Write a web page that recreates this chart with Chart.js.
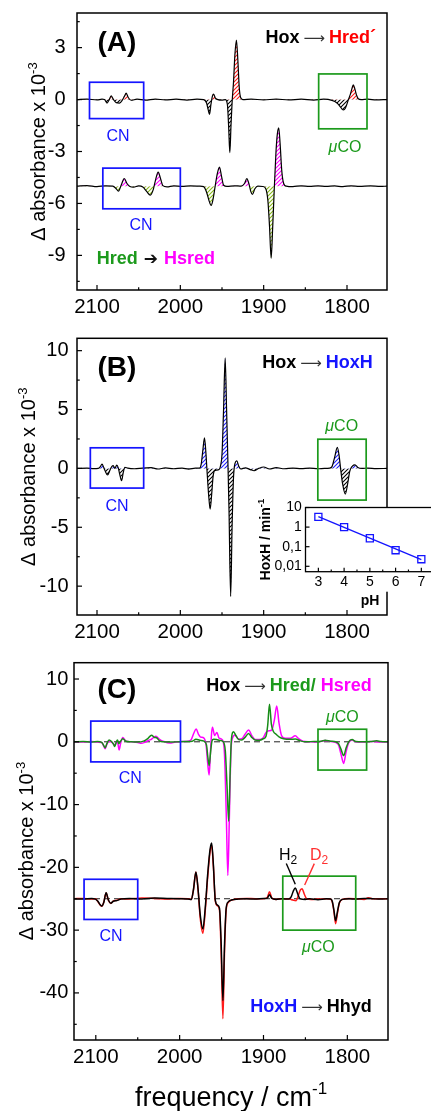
<!DOCTYPE html>
<html><head><meta charset="utf-8">
<script src="https://cdn.jsdelivr.net/npm/chart.js@4.4.1/dist/chart.umd.min.js"></script>
<style>
html,body{margin:0;padding:0;background:#fff;width:431px;height:1111px;overflow:hidden;position:relative}
canvas{position:absolute;left:0}
</style></head><body>
<canvas id="cA" width="431" height="325" style="top:0"></canvas>
<canvas id="cB" width="431" height="325" style="top:325px"></canvas>
<canvas id="cC" width="431" height="461" style="top:650px"></canvas>
<canvas id="cI" width="180" height="125" style="top:490px;left:255px"></canvas>
<script>
const FONT = "'Liberation Sans', Arial, Helvetica, sans-serif";
Chart.defaults.font.family = FONT;
Chart.defaults.color = '#000';

// ---------------- data ----------------
const freqTicks = [2100, 2000, 1900, 1800];
const freqMinorTicks = [2050, 1950, 1850];
const yTicksA = [3, 0, -3, -6, -9];
const yMinorA = [4.5, 1.5, -1.5, -4.5, -7.5, -10.5];
const yTicksB = [10, 5, 0, -5, -10];
const yMinorB = [7.5, 2.5, -2.5, -7.5];
const yTicksC = [10, 0, -10, -20, -30, -40];
const yMinorC = [5, -5, -15, -25, -35, -45];

// [frequency cm-1, delta absorbance x 1e-3]
const specA_HoxHred = [[2124,0],[2112,0.03],[2100,-0.02],[2094,0.02],[2091,0],[2088,-0.2],[2085.5,-0.02],[2083,0.21],[2080.5,0.02],[2077,-0.18],[2073,-0.2],[2069.5,-0.02],[2067,0.2],[2065,0.37],[2062.5,0.12],[2059,-0.04],[2052,0.02],[2042,-0.03],[2030,0.03],[2018,-0.02],[2005,0.02],[1992,-0.03],[1980,0.02],[1972,0],[1968.5,-0.2],[1966.5,-0.6],[1965,-0.85],[1963.3,-0.3],[1961.5,0.2],[1960,0.31],[1958,0.08],[1955,0],[1950,-0.03],[1946,0],[1943.5,-0.3],[1942,-1.6],[1940.6,-3.06],[1939.2,-1.5],[1937.8,-0.1],[1936.2,1.0],[1934.5,2.6],[1932.7,3.44],[1931,2.3],[1929.3,0.7],[1927.5,0.1],[1925,0],[1915,0.03],[1900,-0.02],[1885,0.03],[1870,-0.02],[1855,0.02],[1840,-0.03],[1828,0.02],[1818,-0.05],[1812,-0.2],[1808,-0.42],[1806,-0.55],[1804.2,-0.6],[1802,-0.5],[1800,-0.25],[1798.3,0],[1796,0.3],[1794,0.65],[1792.5,0.85],[1790.5,0.6],[1788.5,0.25],[1786.5,0.05],[1783,0],[1775,0.02],[1765,-0.02],[1752,0]];
const specA_HredHsred = [[2124,-5],[2112,-4.97],[2100,-5.03],[2090,-4.98],[2081,-5.0],[2077.5,-5.12],[2074.2,-5.29],[2071,-4.95],[2067.3,-4.56],[2064,-4.85],[2060.5,-5.02],[2056,-5.06],[2050,-4.99],[2045,-5.05],[2040.5,-5.3],[2036,-5.52],[2032.5,-5.2],[2029.5,-4.6],[2026.6,-4.19],[2023.8,-4.55],[2021,-4.97],[2016,-5.04],[2008,-4.98],[1998,-5.02],[1988,-4.99],[1977,-5.0],[1972,-5.03],[1968.5,-5.35],[1965.5,-5.85],[1963,-6.12],[1960.5,-5.7],[1958.2,-5.0],[1955.5,-4.25],[1953,-3.9],[1950.5,-4.45],[1948,-4.95],[1944,-5.02],[1935,-4.98],[1927,-5.0],[1923,-4.85],[1920.2,-4.57],[1917.5,-4.9],[1915.5,-5.3],[1913.5,-5.48],[1910.5,-5.15],[1907,-5.0],[1901,-5.02],[1897.5,-5.15],[1895,-5.8],[1893,-7.3],[1891,-9.16],[1889.2,-7.4],[1887.3,-5.2],[1885.2,-3.0],[1883.5,-1.95],[1881.9,-1.63],[1880.2,-2.6],[1878.3,-4.1],[1876,-4.85],[1873,-5.0],[1865,-5.03],[1855,-4.98],[1845,-5.02],[1835,-4.98],[1825,-5.02],[1815,-4.99],[1805,-5.03],[1795,-4.98],[1785,-5.02],[1772,-4.99],[1760,-5.02],[1752,-5]];
const specB_HoxHoxH = [[2124,0],[2112,0.02],[2104,-0.02],[2098.5,0],[2096,0.15],[2094,0.37],[2092,0.1],[2090,-0.25],[2087.3,-0.56],[2084.5,-0.15],[2082.3,0.15],[2080.5,0.23],[2078.6,0.0],[2076.3,0.28],[2074.5,0.05],[2072.7,-0.5],[2070.5,-1.05],[2068.5,-0.35],[2066.5,0.1],[2063,0.02],[2055,-0.03],[2045,0.03],[2035,0.06],[2027,-0.05],[2018,0.04],[2008,-0.03],[1998,0.02],[1990,-0.06],[1982,0.02],[1977,0.03],[1975,0.35],[1973.2,1.4],[1971,2.6],[1969.3,1.3],[1967.8,-0.4],[1966.2,-2.1],[1964.2,-3.45],[1962.5,-2.3],[1960.7,-0.7],[1959,-0.2],[1956.5,-0.15],[1953.5,-0.1],[1951.5,0.3],[1950,1.2],[1948.2,4.8],[1946.2,9.38],[1944.5,5.0],[1943,0.8],[1941.6,-3.5],[1939.6,-10.88],[1937.9,-5.0],[1936.2,-0.8],[1934.3,0.45],[1932.2,0.65],[1930,0.2],[1927.5,-0.05],[1922,0.05],[1916,-0.1],[1911.5,-0.2],[1906,0.0],[1900,0.12],[1893,-0.05],[1885,0.06],[1875,-0.03],[1865,0.03],[1855,-0.02],[1845,0.03],[1835,-0.03],[1827,0.0],[1821,0.02],[1818,0.15],[1815,0.9],[1811.6,1.78],[1809.5,1.1],[1807.7,0.0],[1805.3,-1.3],[1802,-2.18],[1799.2,-1.3],[1796.7,-0.25],[1793.5,0.2],[1790.4,0.3],[1787,0.08],[1782,0.0],[1775,0.03],[1765,-0.02],[1752,0]];
const specC_Hred = [[2126,0],[2115,0.05],[2105,-0.05],[2098,0.05],[2093,-0.1],[2090.5,-0.6],[2088.9,-0.95],[2086.8,-0.3],[2084.2,0.3],[2081,0.0],[2079,-0.35],[2077.3,-0.75],[2075.5,0.0],[2074.2,0.3],[2072.5,-0.3],[2070.5,0.1],[2067.8,0.5],[2064,0.1],[2058,0.0],[2050,-0.05],[2043,0.1],[2038,0.5],[2033.6,1.06],[2030,0.7],[2027.5,0.65],[2024,0.15],[2019,0.0],[2010,-0.05],[2000,0.02],[1992,0.05],[1985,0.1],[1980.5,0.4],[1976,0.25],[1971,0.1],[1968,-0.5],[1966.3,-2.5],[1964.8,-3.8],[1963.2,-1.8],[1961.5,0.1],[1959.5,0.4],[1956,0.35],[1952,0.2],[1948,0.0],[1945.5,-1.5],[1943.5,-7],[1941.5,-12.65],[1939.8,-5],[1938.3,0.3],[1935.7,1.6],[1933,1.0],[1929.5,0.35],[1926,0.3],[1922,0.7],[1917.8,1.33],[1914,0.7],[1910,0.3],[1905,0.25],[1900,0.5],[1897,0.9],[1895,2.6],[1892.8,6.0],[1890.6,2.8],[1888,1.6],[1885,1.2],[1881.5,0.8],[1876,0.5],[1868,0.4],[1862,0.45],[1856,0.15],[1850,0.0],[1840,0.05],[1831,0.1],[1826.5,0.25],[1820,0.1],[1814,0.0],[1810.5,-0.3],[1807.5,-1.2],[1804.4,-2.2],[1801.5,-1.0],[1798.5,0.0],[1794.4,0.35],[1790,0.05],[1782,0.0],[1772,0.05],[1765,0.15],[1760,0.05],[1752,0]];
const specC_Hsred = [[2126,0],[2115,-0.05],[2105,0.05],[2098,-0.05],[2093,-0.1],[2090.5,-0.7],[2088.9,-1.1],[2086.8,-0.4],[2084.2,0.1],[2081,-0.1],[2077.3,-0.5],[2075,0.0],[2074.2,0.1],[2073.2,-0.6],[2072.2,-1.3],[2070.3,-0.2],[2067.8,0.7],[2064.5,0.15],[2058,0.0],[2050,-0.1],[2046,-0.25],[2041,-0.05],[2036,0.3],[2033.6,0.4],[2028.4,0.9],[2024,0.4],[2019,0.05],[2012,-0.2],[2005,-0.05],[1998,0.05],[1990,0.1],[1986,0.4],[1983,1.4],[1980.3,2.02],[1977.5,1.2],[1975,0.75],[1971,0.6],[1968.5,-0.5],[1966.5,-3.5],[1964.8,-5.3],[1963.2,-1.5],[1961.8,1.5],[1960.8,2.3],[1958.3,1.0],[1955.6,1.5],[1953,0.6],[1949,0.3],[1946.5,-2],[1944.3,-12],[1942.5,-21.3],[1940.7,-12],[1939,-2],[1937,0.6],[1934,1.1],[1930,0.45],[1926,0.5],[1922,1.2],[1917.8,1.87],[1913.5,0.9],[1910,0.35],[1905,0.35],[1900,0.7],[1897,1.5],[1893.5,1.75],[1890,1.9],[1887,3.5],[1884.2,5.69],[1881.5,3.0],[1878.5,1.0],[1874,0.55],[1868,0.55],[1862.1,0.96],[1858,0.5],[1853,0.1],[1845,0.0],[1835,-0.05],[1826.5,0.2],[1820,0.05],[1814,-0.1],[1810.5,-0.5],[1807.5,-2.0],[1804.4,-3.45],[1801.5,-1.6],[1798.5,-0.2],[1794.4,0.3],[1790,0.0],[1780,-0.05],[1770,0.05],[1760,-0.05],[1752,0]];
const specC_H2 = [[2126,-25],[2115,-25.05],[2105,-24.95],[2100.5,-25.05],[2097.5,-25.4],[2094.5,-26.0],[2092.8,-26.17],[2090.5,-25.6],[2087.7,-24.05],[2085,-25.2],[2082.1,-25.7],[2079,-25.4],[2075,-25.3],[2070,-25.05],[2060,-24.95],[2045,-25.05],[2030,-24.9],[2015,-24.95],[2000,-25.0],[1990,-25.05],[1986,-25.1],[1983.5,-23.5],[1980.6,-20.75],[1978,-23.5],[1975.5,-27.5],[1972.3,-29.8],[1969.5,-26.5],[1966.5,-21],[1963.8,-17.2],[1961.8,-16.13],[1959.8,-19.5],[1957.5,-25.2],[1955,-26.0],[1952.5,-26.5],[1950.5,-32],[1948.4,-41.2],[1946.4,-32],[1944.5,-26.5],[1942,-25.5],[1938,-25.2],[1930,-25.05],[1920,-25.0],[1910,-25.05],[1900,-24.95],[1895.5,-24.9],[1892.8,-24.35],[1890,-24.95],[1885,-25.1],[1878,-25.0],[1870,-25.05],[1867,-24.7],[1864.5,-23.8],[1862.1,-23.3],[1859.5,-24.1],[1856.5,-25.0],[1850,-25.1],[1845,-25.0],[1835,-25.15],[1825,-25.0],[1820,-25.05],[1818,-25.4],[1816,-26.8],[1814,-28.5],[1812,-27.2],[1809.5,-25.6],[1806,-25.1],[1798,-25.0],[1790,-25.05],[1780,-24.95],[1770,-25.0],[1760,-25.05],[1752,-25]];
const specC_D2 = [[2126,-25],[2115,-24.95],[2105,-25.05],[2100.5,-25.0],[2097.5,-25.45],[2094.5,-26.05],[2092.8,-26.2],[2090.5,-25.55],[2087.7,-24.1],[2085,-25.25],[2082.1,-25.75],[2079,-25.35],[2075,-25.25],[2070,-25.0],[2060,-25.05],[2045,-24.9],[2030,-24.95],[2015,-25.05],[2000,-24.95],[1990,-25.0],[1986,-25.1],[1983.5,-23.6],[1980.6,-20.75],[1978,-23.6],[1975.5,-28],[1972.3,-30.5],[1969.5,-27],[1966.5,-21.5],[1963.8,-17.6],[1961.8,-16.5],[1959.8,-19.8],[1957.5,-25.3],[1955,-26.1],[1952.5,-26.8],[1950.5,-33.5],[1948.4,-44.1],[1946.4,-33],[1944.5,-26.8],[1942,-25.6],[1938,-25.2],[1930,-25.0],[1920,-24.95],[1910,-25.0],[1900,-25.0],[1895.5,-24.8],[1892.8,-23.9],[1890,-24.9],[1885,-25.1],[1878,-25.0],[1870,-25.0],[1865,-25.2],[1861,-25.3],[1858.5,-24.5],[1856,-23.6],[1854,-23.4],[1851.5,-24.2],[1848.5,-25.0],[1843,-25.1],[1835,-25.05],[1825,-25.0],[1820,-25.05],[1818,-25.5],[1816,-27.0],[1814,-28.97],[1812,-27.5],[1809.5,-25.7],[1806,-25.1],[1798,-24.95],[1790,-25.0],[1780,-25.1],[1775,-24.85],[1770,-25.0],[1760,-25.0],[1752,-25]];
const baselineC_top = [[2126,0],[1751.5,0]];
const baselineC_bottom = [[2126,-25],[1751.5,-25]];

const insetPH = [3, 4, 5, 6, 7];
const insetRate = [3.3, 1.0, 0.27, 0.066, 0.023];
const insetFitPH = [3, 7];
const insetFitRate = [3.4, 0.022];
const insetXTicks = [3, 4, 5, 6, 7];
const insetXMinor = [3.5, 4.5, 5.5, 6.5];
const insetYTicks = [0.01, 0.1, 1, 10];
const insetYTickLabels = ['0,01', '0,1', '1', '10'];

// ---------------- styling helpers ----------------
const BLUE = '#1414ff', GREEN = '#1c9a1c', MAGENTA = '#ff00ff', RED = '#ff0000';
const pts = arr => arr.map(([x, y]) => ({x, y}));

function hatch(color) {
  const c = document.createElement('canvas'); c.width = 4; c.height = 4;
  const g = c.getContext('2d');
  g.strokeStyle = color; g.lineWidth = 1.1;
  g.beginPath();
  g.moveTo(-1, 5); g.lineTo(5, -1);
  g.moveTo(-1, 1); g.lineTo(1, -1);
  g.moveTo(3, 5); g.lineTo(5, 3);
  g.stroke();
  return g.createPattern(c, 'repeat');
}

function lineDS(data, color, width, order, fill, dash) {
  return {data: pts(data), borderColor: color, borderWidth: width, pointRadius: 0,
    cubicInterpolationMode: 'monotone', fill: fill || false, order: order,
    borderDash: dash || []};
}

function drawParts(ctx, parts, x, y, align, rot) {
  ctx.save();
  ctx.translate(x, y);
  if (rot) ctx.rotate(rot);
  ctx.textBaseline = 'alphabetic';
  ctx.textAlign = 'left';
  const fonts = parts.map(p => `${p.st || 'normal'} ${p.w || 'normal'} ${p.s}px ${p.fam || FONT}`);
  const widths = parts.map((p, i) => { ctx.font = fonts[i]; return ctx.measureText(p.t).width + (p.gap || 0); });
  const total = widths.reduce((a, b) => a + b, 0);
  let cx = align === 'right' ? -total : align === 'center' ? -total / 2 : 0;
  parts.forEach((p, i) => {
    ctx.font = fonts[i]; ctx.fillStyle = p.c || '#000';
    ctx.fillText(p.t, cx + (p.gap || 0) / 2, p.dy || 0);
    cx += widths[i];
  });
  ctx.restore();
}

function deco(o) {
  return {
    id: 'deco' + o.id,
    beforeDraw(chart) {
      if (o.whiteRect) {
        const ctx = chart.ctx, r = o.whiteRect;
        ctx.save(); ctx.fillStyle = '#fff'; ctx.fillRect(r[0], r[1], r[2], r[3]); ctx.restore();
      }
    },
    afterDraw(chart) {
      const ctx = chart.ctx, ca = chart.chartArea, X = chart.scales.x, Y = chart.scales.y;
      ctx.save();
      (o.boxes || []).forEach(b => {
        const x0 = X.getPixelForValue(b.f[0]), x1 = X.getPixelForValue(b.f[1]);
        const y0 = Y.getPixelForValue(b.a[0]), y1 = Y.getPixelForValue(b.a[1]);
        ctx.strokeStyle = b.c; ctx.lineWidth = 1.7;
        ctx.strokeRect(Math.min(x0, x1), Math.min(y0, y1), Math.abs(x1 - x0), Math.abs(y1 - y0));
      });
      (o.lines || []).forEach(l => {
        ctx.strokeStyle = l.c; ctx.lineWidth = 1.4;
        ctx.beginPath();
        ctx.moveTo(X.getPixelForValue(l.p[0][0]), Y.getPixelForValue(l.p[0][1]));
        ctx.lineTo(X.getPixelForValue(l.p[1][0]), Y.getPixelForValue(l.p[1][1]));
        ctx.stroke();
      });
      ctx.strokeStyle = '#000'; ctx.lineWidth = o.frameW || 1.5;
      ctx.strokeRect(ca.left, ca.top, ca.right - ca.left, ca.bottom - ca.top);
      ctx.lineWidth = 1.2;
      const tick = (scale, vals, len, horiz) => vals.forEach(v => {
        const p = scale.getPixelForValue(v);
        ctx.beginPath();
        if (horiz) { if (p < ca.left || p > ca.right) return; ctx.moveTo(p, ca.bottom); ctx.lineTo(p, ca.bottom - len); }
        else { if (p < ca.top || p > ca.bottom) return; ctx.moveTo(ca.left, p); ctx.lineTo(ca.left + len, p); }
        ctx.stroke();
      });
      tick(X, o.xMajor, o.tl || 5, true); tick(X, o.xMinor || [], (o.tl || 5) * 0.55, true);
      tick(Y, o.yMajor, o.tl || 5, false); tick(Y, o.yMinor || [], (o.tl || 5) * 0.55, false);
      (o.texts || []).forEach(t => drawParts(ctx, t.parts, t.x, t.y, t.align, t.rot));
      ctx.restore();
    }
  };
}

function panel(id, o) {
  return new Chart(document.getElementById(id), {
    type: 'line',
    data: {datasets: o.datasets},
    options: {
      responsive: false, animation: false, devicePixelRatio: 1, events: [],
      layout: {autoPadding: false, padding: {top: o.top, right: o.right, left: 0, bottom: 0}},
      plugins: {legend: {display: false}, tooltip: {enabled: false}},
      scales: {
        x: {type: 'linear', reverse: true, min: o.xmin, max: o.xmax,
          grid: {display: false, drawTicks: false}, border: {display: false},
          afterBuildTicks: ax => { ax.ticks = freqTicks.map(v => ({value: v})); },
          afterFit: ax => { ax.height = o.xh; ax.paddingLeft = 0; ax.paddingRight = 0; },
          ticks: {autoSkip: false, maxRotation: 0, minRotation: 0, padding: o.xpad,
            font: {size: 20.5}, color: '#000', callback: v => String(v)}},
        y: {type: 'linear', min: o.ymin, max: o.ymax,
          grid: {display: false, drawTicks: false}, border: {display: false},
          afterBuildTicks: ax => { ax.ticks = o.yMajor.map(v => ({value: v})); },
          afterFit: ax => { ax.width = o.left; ax.paddingTop = 0; ax.paddingBottom = 0; },
          ticks: {autoSkip: false, padding: o.ypad, font: {size: 20}, color: '#000', callback: v => String(v)}}
      }
    },
    plugins: [deco(o)]
  });
}

const muCO = (x, y) => ({parts: [{t: 'μ', s: 16, st: 'italic', c: GREEN}, {t: 'CO', s: 16, c: GREEN}], x, y, align: 'center'});
const CN = (x, y) => ({parts: [{t: 'CN', s: 16, c: BLUE}], x, y, align: 'center'});
const yTitle = (x, y) => ({parts: [{t: 'Δ absorbance x 10', s: 20}, {t: '-3', s: 13, dy: -8}], x, y, align: 'center', rot: -Math.PI / 2});
const ARROW = {t: '⟶', s: 15, c: '#333', fam: "'DejaVu Sans', sans-serif", gap: 8};

// ---------------- Panel A ----------------
panel('cA', {
  id: 'A', top: 13, right: 44, left: 77, xh: 35, xmin: 1752, xmax: 2124, ymin: -11, ymax: 5,
  xpad: 5, ypad: 11.5, xMajor: freqTicks, xMinor: freqMinorTicks, yMajor: yTicksA, yMinor: yMinorA,
  datasets: [
    lineDS(specA_HoxHred, '#000', 1.2, 1, {target: {value: 0}, above: hatch('#ff1a1a'), below: hatch('#000')}),
    lineDS(specA_HredHsred, '#000', 1.2, 2, {target: {value: -5}, above: hatch('#ff00ff'), below: hatch('#86b81a')})
  ],
  boxes: [
    {f: [2109, 2044], a: [1.0, -1.1], c: BLUE},
    {f: [1834, 1776], a: [1.48, -1.69], c: GREEN},
    {f: [2093, 2000], a: [-3.96, -6.31], c: BLUE}
  ],
  texts: [
    {parts: [{t: '(A)', s: 28, w: 'bold'}], x: 97.5, y: 51, align: 'left'},
    {parts: [{t: 'Hox', s: 18, w: 'bold'}, ARROW, {t: 'Hred´', s: 18, w: 'bold', c: RED}], x: 376, y: 42.7, align: 'right'},
    CN(118, 140.7), CN(141, 230), muCO(345, 151.7),
    {parts: [{t: 'Hred', s: 18, w: 'bold', c: GREEN}, {t: '➔', s: 17, fam: "'DejaVu Sans', sans-serif", c: '#111', gap: 12},
      {t: 'Hsred', s: 18, w: 'bold', c: MAGENTA}], x: 96.7, y: 264, align: 'left'},
    yTitle(45, 151.5)
  ]
});

// ---------------- Panel B ----------------
panel('cB', {
  id: 'B', top: 13.3, right: 44, left: 77, xh: 35, xmin: 1752, xmax: 2124, ymin: -12.45, ymax: 11.05,
  xpad: 5, ypad: 8.5, xMajor: freqTicks, xMinor: freqMinorTicks, yMajor: yTicksB, yMinor: yMinorB,
  datasets: [
    lineDS(specB_HoxHoxH, '#000', 1.2, 1, {target: {value: 0}, above: hatch('#2020ff'), below: hatch('#000')})
  ],
  boxes: [
    {f: [2108, 2044], a: [1.75, -1.67], c: BLUE},
    {f: [1835, 1777], a: [2.48, -2.69], c: GREEN}
  ],
  texts: [
    {parts: [{t: '(B)', s: 28, w: 'bold'}], x: 97.5, y: 51, align: 'left'},
    {parts: [{t: 'Hox', s: 18, w: 'bold'}, ARROW, {t: 'HoxH', s: 18, w: 'bold', c: BLUE}], x: 372.7, y: 43.3, align: 'right'},
    CN(117, 185.7), muCO(341.7, 105.7),
    yTitle(35, 151.7)
  ]
});

// ---------------- Panel C ----------------
panel('cC', {
  id: 'C', top: 12.7, right: 43, left: 74, xh: 71, xmin: 1751.5, xmax: 2126, ymin: -47.5, ymax: 12.6,
  xpad: 5, ypad: 5.7, xMajor: freqTicks, xMinor: freqMinorTicks, yMajor: yTicksC, yMinor: yMinorC,
  datasets: [
    lineDS(specC_Hred, '#178c17', 1.5, 1),
    lineDS(specC_Hsred, MAGENTA, 1.5, 2),
    lineDS(specC_H2, '#000', 1.5, 3),
    lineDS(specC_D2, '#ff1a1a', 1.5, 4),
    lineDS(baselineC_top, '#222', 1, 9, false, [6, 4]),
    lineDS(baselineC_bottom, '#222', 1, 9, false, [6, 4])
  ],
  boxes: [
    {f: [2106, 1999], a: [3.3, -3.2], c: BLUE},
    {f: [1835, 1777], a: [2.0, -4.5], c: GREEN},
    {f: [2114, 2050], a: [-21.9, -28.3], c: BLUE},
    {f: [1877, 1790], a: [-21.4, -30], c: GREEN}
  ],
  lines: [
    {p: [[1872.8, -19.4], [1862.1, -22.7]], c: '#000'},
    {p: [[1839.4, -19.4], [1850.9, -22.8]], c: '#ff3030'}
  ],
  texts: [
    {parts: [{t: '(C)', s: 28, w: 'bold'}], x: 97.5, y: 48.3, align: 'left'},
    {parts: [{t: 'Hox', s: 18, w: 'bold'}, ARROW, {t: 'Hred/', s: 18, w: 'bold', c: GREEN}, {t: ' Hsred', s: 18, w: 'bold', c: MAGENTA}], x: 371.7, y: 40.7, align: 'right'},
    CN(130.3, 132.7), muCO(342.3, 71.7),
    CN(111, 290.7), muCO(318.3, 301.7),
    {parts: [{t: 'H', s: 16}, {t: '2', s: 12, dy: 4}], x: 279, y: 210, align: 'left'},
    {parts: [{t: 'D', s: 16, c: '#ff3030'}, {t: '2', s: 12, dy: 4, c: '#ff3030'}], x: 310, y: 210, align: 'left'},
    {parts: [{t: 'HoxH', s: 18, w: 'bold', c: BLUE}, ARROW, {t: 'Hhyd', s: 18, w: 'bold'}], x: 371.7, y: 361.7, align: 'right'},
    yTitle(33, 201),
    {parts: [{t: 'frequency / cm', s: 27}, {t: '-1', s: 17, dy: -12}], x: 231, y: 456, align: 'center'}
  ]
});

// ---------------- Inset (pH dependence) ----------------
const insetO = {
  id: 'I', xMajor: insetXTicks, xMinor: insetXMinor, yMajor: insetYTicks, yMinor: [], tl: 4, frameW: 1.3,
  whiteRect: [0, 17.5, 180, 84.2],
  texts: [
    {parts: [{t: 'pH', s: 14, w: 'bold'}], x: 115, y: 115, align: 'center'},
    {parts: [{t: 'HoxH / min', s: 14, w: 'bold'}, {t: '-1', s: 9.5, w: 'bold', dy: -6}], x: 15, y: 49.6, align: 'center', rot: -Math.PI / 2}
  ]
};
new Chart(document.getElementById('cI'), {
  type: 'line',
  data: {datasets: [
    {data: insetPH.map((x, i) => ({x, y: insetRate[i]})), showLine: false, pointStyle: 'rect', pointRadius: 5,
      pointBorderColor: BLUE, pointBackgroundColor: 'rgba(255,255,255,0)', pointBorderWidth: 1.3, borderColor: BLUE, order: 1},
    {data: insetFitPH.map((x, i) => ({x, y: insetFitRate[i]})), borderColor: BLUE, borderWidth: 1.3, pointRadius: 0, order: 2}
  ]},
  options: {
    responsive: false, animation: false, devicePixelRatio: 1, events: [],
    layout: {autoPadding: false, padding: {top: 17.5, right: 0.8, left: 0, bottom: 0}},
    plugins: {legend: {display: false}, tooltip: {enabled: false}},
    scales: {
      x: {type: 'linear', min: 2.5, max: 7.5, grid: {display: false, drawTicks: false}, border: {display: false},
        afterBuildTicks: ax => { ax.ticks = insetXTicks.map(v => ({value: v})); },
        afterFit: ax => { ax.height = 43.3; ax.paddingLeft = 0; ax.paddingRight = 0; },
        ticks: {autoSkip: false, maxRotation: 0, padding: 2.4, font: {size: 14}, color: '#000', callback: v => String(v)}},
      y: {type: 'logarithmic', min: 0.0053, max: 10, grid: {display: false, drawTicks: false}, border: {display: false},
        afterBuildTicks: ax => { ax.ticks = insetYTicks.map(v => ({value: v})); },
        afterFit: ax => { ax.width = 50.5; ax.paddingTop = 0; ax.paddingBottom = 0; },
        ticks: {autoSkip: false, padding: 3.8, font: {size: 14}, color: '#000',
          callback: v => { const i = insetYTicks.indexOf(v); return i >= 0 ? insetYTickLabels[i] : ''; }}}
    }
  },
  plugins: [deco(insetO)]
});
</script></body></html>
